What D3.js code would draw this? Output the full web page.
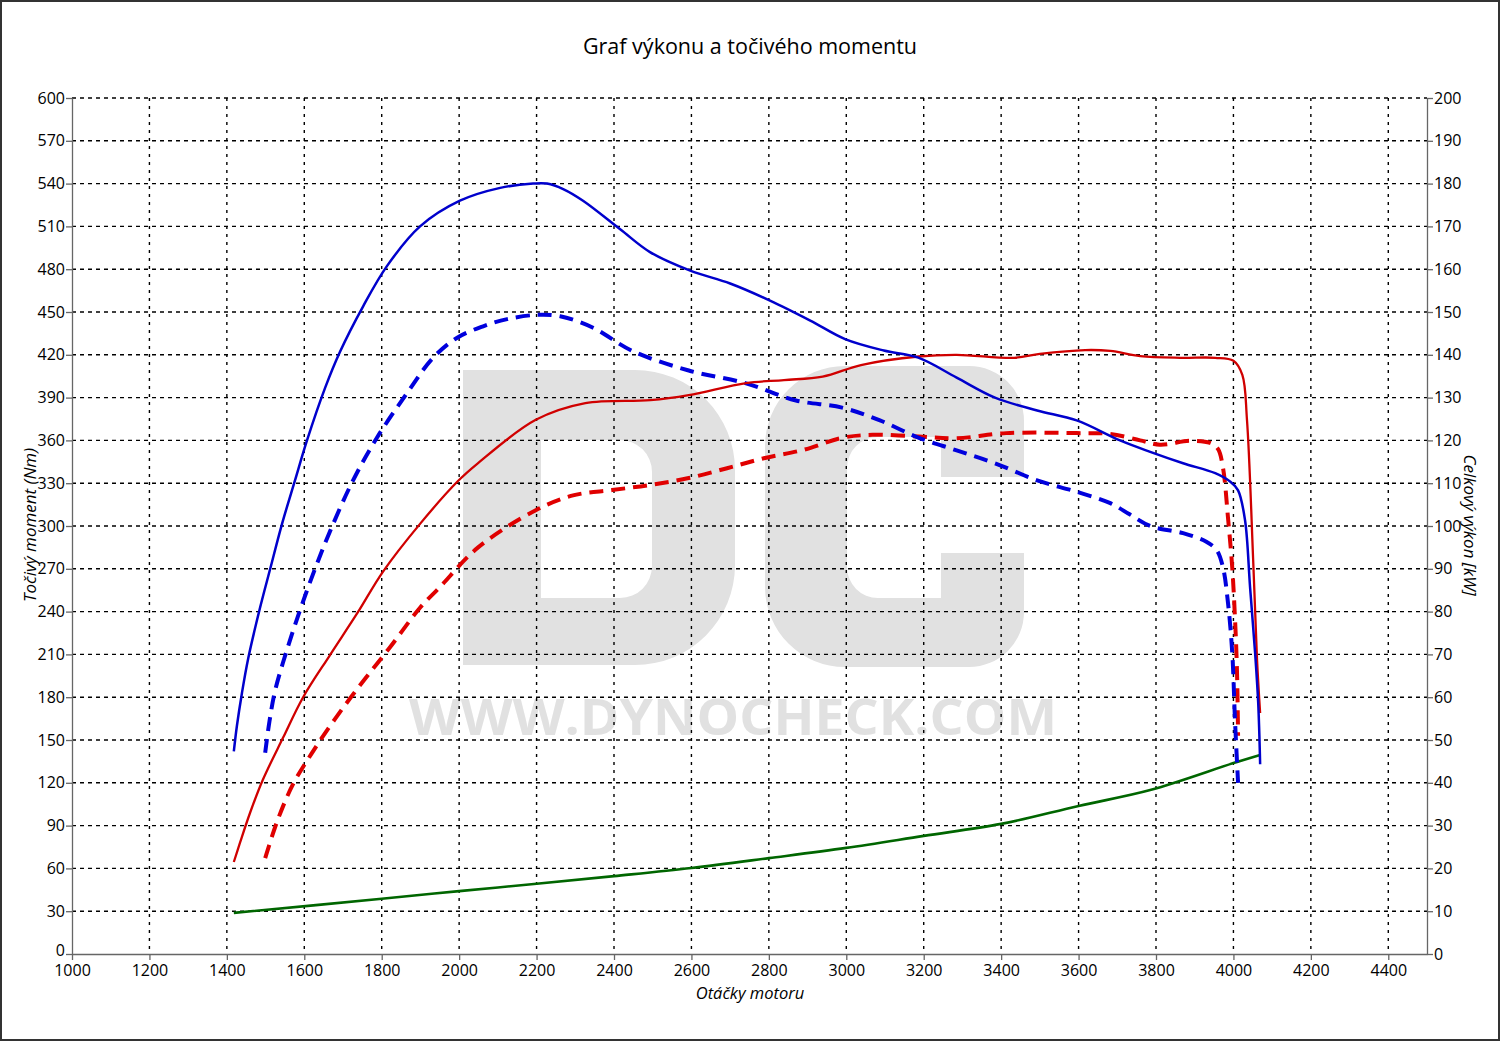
<!DOCTYPE html>
<html><head><meta charset="utf-8">
<script src="https://cdn.jsdelivr.net/npm/d3@7"></script>
<style>
html,body{margin:0;padding:0;background:#fff;}
svg{display:block;}
text{font-family:"Open Sans","Noto Sans",sans-serif;}
</style></head>
<body>
<svg id="chart" width="1500" height="1041"></svg>
<script>
// ---- data ----
const title = "Graf výkonu a točivého momentu";
const xTitle = "Otáčky motoru";
const yLeftTitle = "Točivý moment (Nm)";
const yRightTitle = "Celkový výkon [kW]";
const watermarkText = "WWW.DYNOCHECK.COM";
const xTicks = [1000,1200,1400,1600,1800,2000,2200,2400,2600,2800,3000,3200,3400,3600,3800,4000,4200,4400];
const yLeftTicks = [0,30,60,90,120,150,180,210,240,270,300,330,360,390,420,450,480,510,540,570,600];
const yRightTicks = [0,10,20,30,40,50,60,70,80,90,100,110,120,130,140,150,160,170,180,190,200];

// tuned torque (Nm) [rpm, Nm]
const torqueTuned = [[1418,142],[1426,160],[1439,183],[1455,207],[1486,243],[1512,270],[1542,301],[1576,332],[1607,360],[1654,397],[1692,422],[1752,454],[1813,482],[1899,510],[2002,528],[2106,537],[2191,540],[2227,540],[2270,536],[2320,528],[2416,508],[2493,492],[2597,479],[2700,470],[2803,458],[2907,444],[2997,431],[3097,423],[3186,418],[3285,404],[3384,390],[3493,381],[3595,374],[3707,360],[3785,352],[3870,344],[3953,337],[3992,331],[4012,325],[4030,304],[4043,257],[4056,211],[4064,176],[4069,133]];
// stock torque (Nm)
const torqueStock = [[1499,141],[1510,163],[1525,185],[1555,213],[1589,241],[1625,268],[1666,296],[1726,332],[1788,362],[1865,393],[1933,418],[1995,432],[2062,440],[2124,445],[2201,448],[2261,447],[2346,439],[2445,423],[2593,409],[2741,400],[2870,388],[2989,383],[3087,374],[3186,362],[3285,353],[3384,344],[3493,332],[3595,324],[3682,316],[3733,308],[3785,300],[3870,295],[3930,289],[3957,283],[3973,271],[3986,246],[3997,211],[4004,164],[4012,120]];
// tuned power (kW)
const powerTuned = [[1418,21.5],[1434,26],[1460,33],[1493,40.7],[1545,50.5],[1597,60],[1666,69.8],[1736,79.5],[1803,89.3],[1899,100.5],[1997,110.5],[2049,114.7],[2198,124.8],[2326,128.7],[2494,129.4],[2593,130.6],[2741,133.4],[2839,134.1],[2939,134.9],[3038,137.6],[3186,139.6],[3285,140],[3434,139.3],[3500,140.2],[3617,141.1],[3682,140.9],[3759,139.7],[3862,139.3],[3953,139.3],[4000,138.6],[4023,135.3],[4035,124.8],[4051,92],[4061,68.7],[4069,56.3]];
// stock power (kW)
const powerStock = [[1499,22.4],[1530,31],[1570,39.5],[1620,47],[1680,55],[1750,63.5],[1820,71.5],[1900,81],[1951,85.8],[2049,95],[2198,103.7],[2297,107.2],[2395,108.4],[2494,109.6],[2593,111.2],[2692,113.5],[2790,115.9],[2890,117.8],[2989,120.6],[3068,121.3],[3186,120.9],[3285,120.5],[3413,121.7],[3595,121.7],[3682,121.5],[3759,120],[3810,119],[3888,119.9],[3940,119.4],[3960,118],[3973,113.6],[3986,101.9],[3997,90.2],[4004,78.5],[4009,66.8],[4012,51]];
// loss power (kW)
const powerLoss = [[1418,9.6],[1800,12.9],[2000,14.7],[2200,16.4],[2400,18.2],[2600,20.1],[2800,22.4],[3000,24.8],[3200,27.6],[3400,30.4],[3600,34.6],[3785,38.3],[4000,44.6],[4069,46.5]];

// ---- layout ----
const svg = d3.select("#chart");
const L = 72, R = 1427, T = 98, B = 954;
const x = d3.scaleLinear().domain([1000,4500]).range([L,R]);
const yL = d3.scaleLinear().domain([0,600]).range([B,T]);
const yR = d3.scaleLinear().domain([0,200]).range([B,T]);

svg.append("rect").attr("x",1).attr("y",1).attr("width",1498).attr("height",1039)
  .attr("fill","#fff").attr("stroke","#333").attr("stroke-width",2);

// watermark (decorative logo)
const wm = svg.append("g").attr("fill","#e1e1e1").attr("fill-rule","evenodd");
wm.append("path").attr("d",
  "M463,370 H635 A100,100 0 0 1 735,470 V565 A100,100 0 0 1 635,665 H463 Z " +
  "M541,440 H620 A32,32 0 0 1 652,472 V566 A32,32 0 0 1 620,598 H541 Z");
wm.append("path").attr("d",
  "M845,366 H969 A55,55 0 0 1 1024,421 V477 H941 V437 H878 A31,31 0 0 0 847,468 V567 A31,31 0 0 0 878,598 H941 V553 H1024 V612 A55,55 0 0 1 969,667 H845 A80,80 0 0 1 765,587 V446 A80,80 0 0 1 845,366 Z");
wm.append("text").attr("x",409).attr("y",735).attr("font-size",50)
  .attr("font-weight","bold").attr("font-family","'Liberation Sans',sans-serif")
  .attr("textLength",648).attr("lengthAdjust","spacingAndGlyphs").text(watermarkText);

// grid
const grid = svg.append("g").attr("stroke","#000").attr("stroke-width",1.4);
grid.selectAll("line.h").data(yLeftTicks.filter(d=>d>0)).join("line")
  .attr("x1",L).attr("x2",R).attr("y1",d=>yL(d)).attr("y2",d=>yL(d))
  .attr("stroke-dasharray","4,4");
grid.selectAll("line.v").data(xTicks.filter(d=>d>1000)).join("line")
  .attr("y1",T).attr("y2",B).attr("x1",d=>x(d)).attr("x2",d=>x(d))
  .attr("stroke-dasharray","3,5");

// axes
const axisColor = "#666";
function styleAxis(g){
  g.select(".domain").attr("stroke",axisColor).attr("stroke-width",1.3);
  g.selectAll(".tick line").attr("stroke",axisColor).attr("stroke-width",1.3);
  g.selectAll(".tick text").attr("fill","#000").attr("font-size",16)
    .attr("font-family","'Open Sans','Noto Sans',sans-serif");
}
svg.append("g").attr("transform",`translate(${L},0)`)
  .call(d3.axisLeft(yL).tickValues(yLeftTicks).tickSize(6).tickSizeOuter(0).tickPadding(1))
  .call(styleAxis)
  .selectAll(".tick text").filter(d=>d===0).attr("dy","0.12em");
svg.append("g").attr("transform",`translate(${R},0)`)
  .call(d3.axisRight(yR).tickValues(yRightTicks).tickSize(6).tickSizeOuter(0).tickPadding(1))
  .call(styleAxis);
svg.append("g").attr("transform",`translate(0,${B})`)
  .call(d3.axisBottom(x).tickValues(xTicks).tickFormat(d3.format("d")).tickSize(6).tickSizeOuter(0).tickPadding(5))
  .call(styleAxis);

// lines
const curve = d3.curveCatmullRom.alpha(0.5);
const lineL = d3.line().x(d=>x(d[0])).y(d=>yL(d[1])).curve(curve);
const lineR = d3.line().x(d=>x(d[0])).y(d=>yR(d[1])).curve(curve);
const plot = svg.append("g").attr("fill","none");
plot.append("path").attr("d",lineR(powerLoss)).attr("stroke","#006600").attr("stroke-width",2.6);
plot.append("path").attr("d",lineR(powerStock)).attr("stroke","#e00000").attr("stroke-width",4).attr("stroke-dasharray","14,8");
plot.append("path").attr("d",lineL(torqueStock)).attr("stroke","#0000dd").attr("stroke-width",4).attr("stroke-dasharray","14,8");
plot.append("path").attr("d",lineR(powerTuned)).attr("stroke","#d00000").attr("stroke-width",2.3);
plot.append("path").attr("d",lineL(torqueTuned)).attr("stroke","#0000cc").attr("stroke-width",2.5);

// titles
svg.append("text").attr("x",750).attr("y",54).attr("text-anchor","middle").attr("font-size",21.5).text(title);
svg.append("text").attr("x",750).attr("y",999).attr("text-anchor","middle").attr("font-size",16.5).attr("font-style","italic").text(xTitle);
svg.append("text").attr("transform","translate(36,525) rotate(-90)").attr("text-anchor","middle").attr("font-size",17).attr("font-style","italic").text(yLeftTitle);
svg.append("text").attr("transform","translate(1464,525) rotate(90)").attr("text-anchor","middle").attr("font-size",17).attr("font-style","italic").text(yRightTitle);
</script>
</body></html>
